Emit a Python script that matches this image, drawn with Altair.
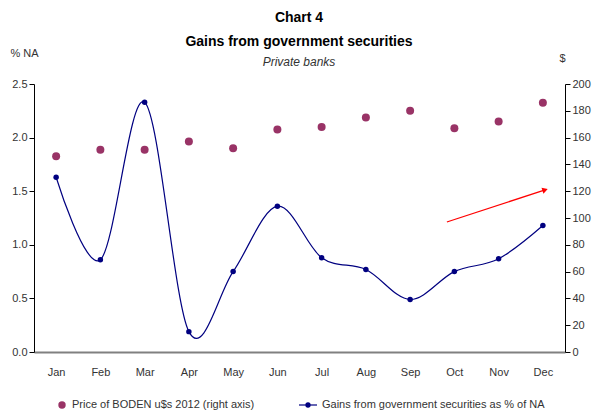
import altair as alt
import pandas as pd

months = ["Jan", "Feb", "Mar", "Apr", "May", "Jun", "Jul", "Aug", "Sep", "Oct", "Nov", "Dec"]
gains = [1.63, 0.86, 2.33, 0.19, 0.75, 1.36, 0.88, 0.77, 0.49, 0.75, 0.87, 1.18]
price = [146, 151, 151, 157, 152, 166, 168, 175, 180, 167, 172, 186]
arrow_x = [8.83, 11.05]
arrow_y = [97, 121]

FONT = "Liberation Sans Narrow, Liberation Sans, Arial, sans-serif"
PURPLE = "#993366"
NAVY = "#000080"

df = pd.DataFrame({"i": list(range(12)), "month": months, "gains": gains, "price": price})
arrow = pd.DataFrame({"i": [arrow_x[0]], "i2": [arrow_x[1]], "price": [arrow_y[0]], "price2": [arrow_y[1]]})
arrow_head = pd.DataFrame({"i": [arrow_x[1]], "price": [arrow_y[1]]})

month_expr = "[" + ",".join("'%s'" % m for m in months) + "][datum.value]"

xenc = alt.X(
    "i:Q",
    scale=alt.Scale(domain=[-0.5, 11.5], nice=False, zero=False),
    axis=alt.Axis(
        values=list(range(12)), labelExpr=month_expr, title=None, ticks=False,
        domainColor="#808080", domainWidth=2, labelPadding=14, labelFontSize=11,
        labelColor="#333333", labelFont=FONT, grid=False,
    ),
)

yleft = alt.Y(
    "gains:Q", scale=alt.Scale(domain=[0, 2.5], nice=False),
    axis=alt.Axis(
        orient="left", values=[0, 0.5, 1.0, 1.5, 2.0, 2.5], format=".1f", grid=False,
        domainColor="black", tickColor="black", tickSize=5, labelFontSize=11,
        labelColor="#333333", labelFont=FONT, title="% NA", titleAngle=0,
        titleFont=FONT, titleFontWeight="normal", titleFontSize=11, titleColor="#333333",
        titleX=-24, titleY=-31, titleAlign="left", titleBaseline="middle",
    ),
)
yright = alt.Y(
    "price:Q", scale=alt.Scale(domain=[0, 200], nice=False),
    axis=alt.Axis(
        orient="right", values=list(range(0, 201, 20)), grid=False,
        domainColor="black", tickColor="black", tickSize=5, labelFontSize=11,
        labelColor="#333333", labelFont=FONT, title="$", titleAngle=0,
        titleFont=FONT, titleFontWeight="normal", titleFontSize=11, titleColor="#333333",
        titleX=-6, titleY=-26, titleAlign="left", titleBaseline="middle",
    ),
)

line = alt.Chart(df).mark_line(color=NAVY, strokeWidth=1.2, interpolate="cardinal", tension=0).encode(
    x=xenc, y=yleft)
dots = alt.Chart(df).mark_point(filled=True, color=NAVY, size=30, opacity=1).encode(
    x=xenc, y=yleft)
left = alt.layer(line, dots)

pts = alt.Chart(df).mark_point(filled=True, color=PURPLE, size=64, opacity=1).encode(
    x=xenc, y=yright)
arr = alt.Chart(arrow).mark_rule(color="red", strokeWidth=1.2).encode(
    x=xenc, x2="i2:Q", y=yright, y2="price2:Q")
head = alt.Chart(arrow_head).mark_point(
    shape="triangle-right", filled=True, color="red", size=40, angle=342, opacity=1
).encode(x=xenc, y=yright)
right = alt.layer(pts, arr, head)

LY = 321  # legend row, relative to plot top
base = alt.Chart(pd.DataFrame({"a": [0]}))
annot = alt.layer(
    base.mark_text(text="Chart 4", font=FONT, fontSize=14, fontWeight="bold", color="black").encode(
        x=alt.value(265), y=alt.value(-66)),
    base.mark_text(text="Gains from government securities", font=FONT, fontSize=14, fontWeight="bold", color="black").encode(
        x=alt.value(265), y=alt.value(-42)),
    base.mark_text(text="Private banks", font=FONT, fontSize=12, fontStyle="italic", color="#333333").encode(
        x=alt.value(265), y=alt.value(-22)),
    base.mark_point(filled=True, color=PURPLE, size=55, opacity=1).encode(
        x=alt.value(28), y=alt.value(LY)),
    base.mark_text(text="Price of BODEN u$s 2012 (right axis)", font=FONT, fontSize=11, color="#333333", align="left").encode(
        x=alt.value(38), y=alt.value(LY)),
    base.mark_rule(color=NAVY, strokeWidth=1.2).encode(
        x=alt.value(265), x2=alt.value(283), y=alt.value(LY)),
    base.mark_point(filled=True, color=NAVY, size=28, opacity=1).encode(
        x=alt.value(274), y=alt.value(LY)),
    base.mark_text(text="Gains from government securities as % of NA", font=FONT, fontSize=11, color="#333333", align="left").encode(
        x=alt.value(288), y=alt.value(LY)),
)

chart = alt.layer(left, right, annot).resolve_scale(y="independent").properties(
    width=531, height=268,
    autosize=alt.AutoSizeParams(type="none"),
    padding={"left": 34, "top": 84, "right": 30, "bottom": 58},
).configure_view(stroke=None)

chart.save("out.html", embed_options={"renderer": "svg", "actions": False})
